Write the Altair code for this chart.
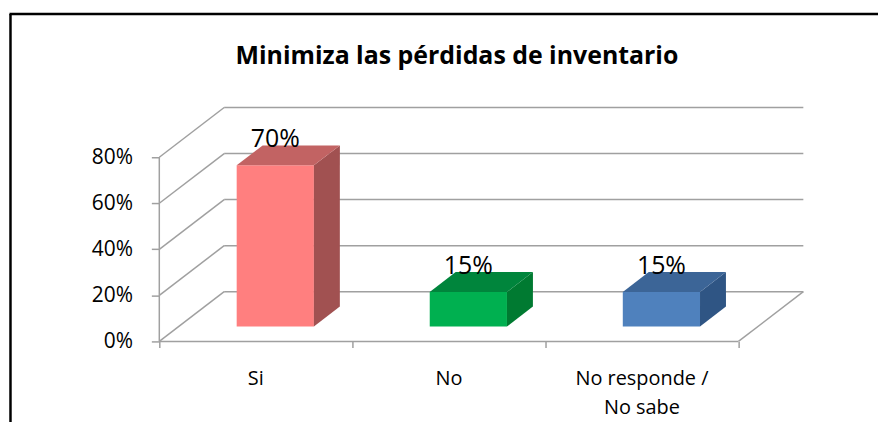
import altair as alt
import pandas as pd

# ---------------- data ----------------
categories = ["Si", "No", "No responde /\nNo sabe"]
values = [70, 15, 15]
front_colors = ["#FF7F7F", "#00B050", "#4F81BD"]
top_colors = ["#C26363", "#00853C", "#3C6597"]
side_colors = ["#A15151", "#007A31", "#2F5584"]
y_ticks = [0, 20, 40, 60, 80]
title_text = "Minimiza las pérdidas de inventario"

# ---------------- 3-D projection parameters ----------------
DX = 0.336   # depth shift, in category units
DY = 21.6    # depth shift, in percent units
D0, D1 = 0.3, 0.7   # bar depth span (fraction of floor depth)
B0, B1 = 0.3, 0.7   # bar span inside its band
NCAT = len(categories)
XMAX = NCAT + DX
YMAX = max(y_ticks) + DY

xs = alt.Scale(domain=[0, XMAX], nice=False, zero=False)
ys = alt.Scale(domain=[0, YMAX], nice=False, zero=False)

# ---------------- wall / floor lines ----------------
rows = []
seg = 0
def add(p, q):
    global seg
    rows.append({"seg": seg, "k": 0, "x": p[0], "y": p[1]})
    rows.append({"seg": seg, "k": 1, "x": q[0], "y": q[1]})
    seg += 1

for v in y_ticks:
    add((DX, v + DY), (NCAT + DX, v + DY))      # back wall
    add((0, v), (DX, v + DY))                   # side wall diagonals
add((0, 0), (NCAT, 0))                          # floor front edge
add((0, 0), (0, max(y_ticks)))                  # front vertical axis line
add((NCAT, 0), (NCAT + DX, DY))                 # floor right edge
grid = pd.DataFrame(rows)

# ---------------- bar faces ----------------
front, side, top, labels, cats = [], [], [], [], []
for i, (c, v) in enumerate(zip(categories, values)):
    xl0 = i + B0 + D0 * DX
    xr0 = i + B1 + D0 * DX
    xl1 = i + B0 + D1 * DX
    xr1 = i + B1 + D1 * DX
    front.append({"c": c, "x": xl0, "x2": xr0, "y": D0 * DY, "y2": v + D0 * DY,
                  "col": front_colors[i]})
    side.append({"c": c, "x": xr0, "y": D0 * DY, "y2": v + D0 * DY, "col": side_colors[i]})
    side.append({"c": c, "x": xr1, "y": D1 * DY, "y2": v + D1 * DY, "col": side_colors[i]})
    top.append({"c": c, "y": v + D0 * DY, "x": xl0, "x2": xr0, "col": top_colors[i]})
    top.append({"c": c, "y": v + D1 * DY, "x": xl1, "x2": xr1, "col": top_colors[i]})
    labels.append({"x": (xl0 + xr0) / 2, "y": v + D1 * DY, "t": f"{v}%"})
    cats.append({"x": i + 0.5, "t": c})

front = pd.DataFrame(front)
side = pd.DataFrame(side)
top = pd.DataFrame(top)
labels = pd.DataFrame(labels)
cats = pd.DataFrame(cats)
title_df = pd.DataFrame({"t": [title_text]})

FONT = "Open Sans"

y_axis = alt.Axis(values=y_ticks, labelExpr="datum.value + '%'", domain=False, grid=False,
                  tickSize=8, tickColor="#A0A0A0", tickWidth=1.5, labelPadding=19,
                  labelFont=FONT, labelFontSize=21, labelColor="#000000", title=None)
x_axis = alt.Axis(values=list(range(NCAT + 1)), labels=False, domain=False, grid=False,
                  tickSize=6, tickColor="#A0A0A0", tickWidth=1.5, title=None)

lines = alt.Chart(grid).mark_line(color="#A0A0A0", strokeWidth=1.5).encode(
    x=alt.X("x:Q", scale=xs, axis=x_axis),
    y=alt.Y("y:Q", scale=ys, axis=y_axis),
    detail="seg:N",
    order="k:Q",
)

fronts = alt.Chart(front).mark_rect().encode(
    x=alt.X("x:Q", scale=xs), x2="x2:Q",
    y=alt.Y("y:Q", scale=ys), y2="y2:Q",
    color=alt.Color("col:N", scale=None),
)

sides = alt.Chart(side).mark_area(orient="vertical").encode(
    x=alt.X("x:Q", scale=xs),
    y=alt.Y("y:Q", scale=ys), y2="y2:Q",
    detail="c:N",
    color=alt.Color("col:N", scale=None),
)

tops = alt.Chart(top).mark_area(orient="horizontal").encode(
    y=alt.Y("y:Q", scale=ys),
    x=alt.X("x:Q", scale=xs), x2="x2:Q",
    detail="c:N",
    color=alt.Color("col:N", scale=None),
)

value_text = alt.Chart(labels).mark_text(
    font=FONT, fontSize=25, baseline="alphabetic", align="center", dy=2, color="#000000"
).encode(x=alt.X("x:Q", scale=xs), y=alt.Y("y:Q", scale=ys), text="t:N")

cat_text = alt.Chart(cats).mark_text(
    font=FONT, fontSize=20, baseline="top", align="center", lineBreak="\n",
    lineHeight=29, color="#000000"
).encode(x=alt.X("x:Q", scale=xs), y=alt.value(263), text="t:N")

title_mark = alt.Chart(title_df).mark_text(
    font=FONT, fontSize=25, fontWeight="bold", baseline="alphabetic", align="center",
    color="#000000"
).encode(x=alt.value(299), y=alt.value(-44), text="t:N")

frame_left = alt.Chart(grid.head(1)).mark_rule(color="#000000", strokeWidth=2.5).encode(
    x=alt.value(-149.5), y=alt.value(-94), y2=alt.value(335))
frame_top = alt.Chart(grid.head(1)).mark_rule(color="#000000", strokeWidth=2.5).encode(
    x=alt.value(-150.5), x2=alt.value(725), y=alt.value(-94))

chart = alt.layer(
    lines, fronts, sides, tops, value_text, cat_text, title_mark, frame_left, frame_top
).properties(
    width=647, height=235,
    padding={"left": 152, "top": 99, "right": 75, "bottom": 80},
    autosize=alt.AutoSizeParams(type="none"),
).configure(background="#FFFFFF").configure_view(stroke=None, strokeWidth=0)

chart.save("out.html", embed_options={"renderer": "svg", "actions": False})
